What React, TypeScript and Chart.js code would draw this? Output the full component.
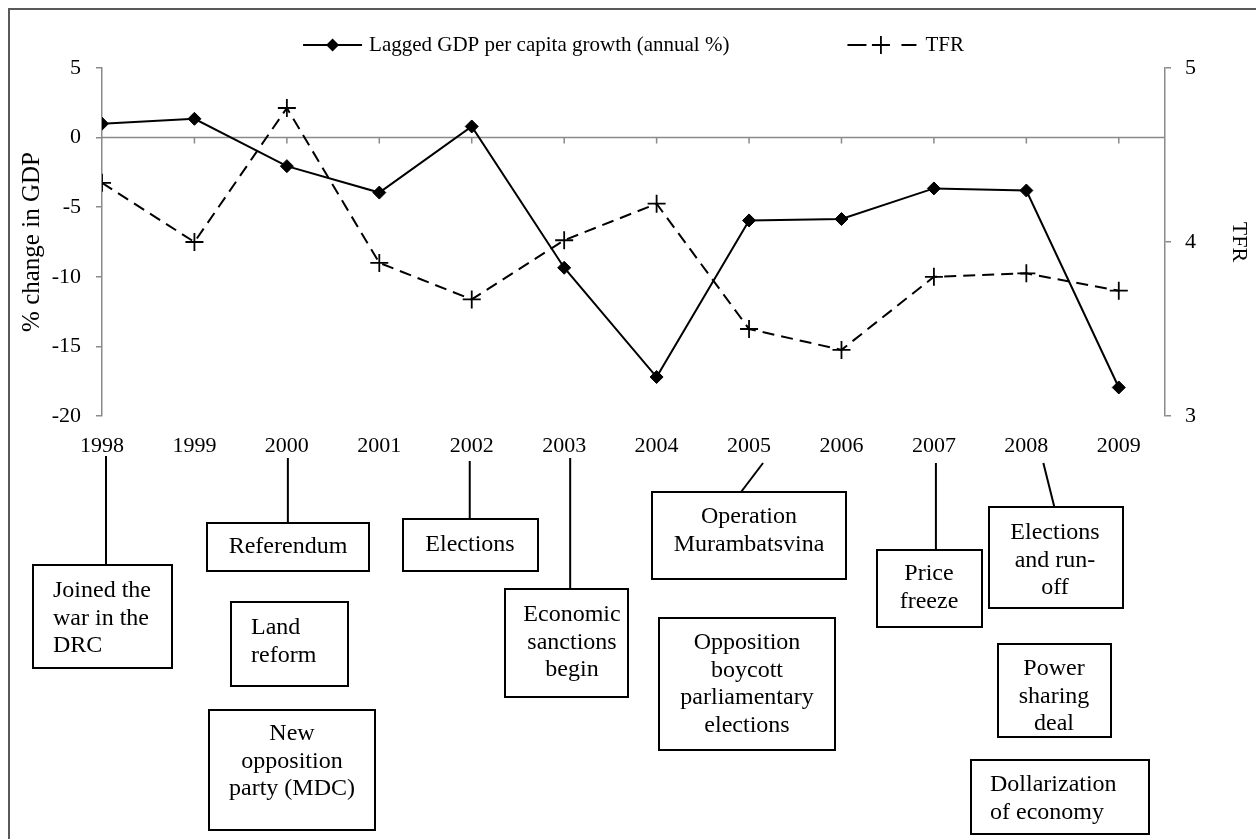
import React, { useEffect, useRef } from 'react';
import { Chart, registerables } from 'chart.js';

Chart.register(...registerables);

// ---------------- data ----------------
const years = [1998, 1999, 2000, 2001, 2002, 2003, 2004, 2005, 2006, 2007, 2008, 2009];
const gdpGrowth = [1.0, 1.35, -2.05, -3.95, 0.8, -9.35, -17.2, -5.95, -5.85, -3.65, -3.8, -17.95];
const tfr = [4.34, 4.0, 4.77, 3.88, 3.67, 4.01, 4.22, 3.5, 3.38, 3.8, 3.82, 3.72];
const gdpTicks = [-20, -15, -10, -5, 0, 5];
const tfrTicks = [3, 4, 5];
const legendLabels = ['Lagged GDP per capita growth (annual %)', 'TFR'];
const leftAxisTitle = '% change in GDP';
const rightAxisTitle = 'TFR';

// ---------------- annotation layout ----------------
type Note = {
  lines: string[];
  box: [number, number, number, number];
  align: 'left' | 'center';
  textX: number;
  firstY: number;
  link?: { year: number; dxTop: number; dxBottom: number; yTop: number };
};

const notes: Note[] = [
  { lines: ['Joined the', 'war in the', 'DRC'], box: [33, 565, 172, 668], align: 'left', textX: 53, firstY: 591, link: { year: 1998, dxTop: 4, dxBottom: 4, yTop: 456 } },
  { lines: ['Referendum'], box: [207, 523, 369, 571], align: 'center', textX: 288, firstY: 547, link: { year: 2000, dxTop: 1, dxBottom: 1, yTop: 458 } },
  { lines: ['Land', 'reform'], box: [231, 602, 348, 686], align: 'left', textX: 251, firstY: 628 },
  { lines: ['New', 'opposition', 'party (MDC)'], box: [209, 710, 375, 830], align: 'center', textX: 292, firstY: 734 },
  { lines: ['Elections'], box: [403, 519, 538, 571], align: 'center', textX: 470, firstY: 545, link: { year: 2002, dxTop: -2, dxBottom: -2, yTop: 461 } },
  { lines: ['Economic', 'sanctions', 'begin'], box: [505, 589, 628, 697], align: 'center', textX: 572, firstY: 615, link: { year: 2003, dxTop: 6, dxBottom: 6, yTop: 458 } },
  { lines: ['Operation', 'Murambatsvina'], box: [652, 492, 846, 579], align: 'center', textX: 749, firstY: 517, link: { year: 2005, dxTop: 14, dxBottom: -8, yTop: 463 } },
  { lines: ['Opposition', 'boycott', 'parliamentary', 'elections'], box: [659, 618, 835, 750], align: 'center', textX: 747, firstY: 643 },
  { lines: ['Price', 'freeze'], box: [877, 550, 982, 627], align: 'center', textX: 929, firstY: 574, link: { year: 2007, dxTop: 2, dxBottom: 2, yTop: 463 } },
  { lines: ['Elections', 'and run-', 'off'], box: [989, 507, 1123, 608], align: 'center', textX: 1055, firstY: 533, link: { year: 2008, dxTop: 17, dxBottom: 28, yTop: 463 } },
  { lines: ['Power', 'sharing', 'deal'], box: [998, 644, 1111, 737], align: 'center', textX: 1054, firstY: 669 },
  { lines: ['Dollarization', 'of economy'], box: [971, 760, 1149, 834], align: 'left', textX: 990, firstY: 785 },
];

const FONT = '"Liberation Serif", "Times New Roman", Times, serif';
const AXIS_GRAY = '#8a8a8a';
const W = 1256;
const H = 839;

function drawDiamond(ctx: CanvasRenderingContext2D, x: number, y: number, r: number) {
  ctx.beginPath();
  ctx.moveTo(x - r, y);
  ctx.lineTo(x, y - r);
  ctx.lineTo(x + r, y);
  ctx.lineTo(x, y + r);
  ctx.closePath();
  ctx.fill();
}

function drawCross(ctx: CanvasRenderingContext2D, x: number, y: number, r: number) {
  ctx.beginPath();
  ctx.moveTo(x - r, y);
  ctx.lineTo(x + r, y);
  ctx.moveTo(x, y - r);
  ctx.lineTo(x, y + r);
  ctx.stroke();
}

const figurePlugin = {
  id: 'figureExtras',
  beforeDatasetsDraw(chart: any) {
    const { ctx, chartArea, scales } = chart;
    const y0 = scales.y.getPixelForValue(0);
    ctx.save();
    ctx.strokeStyle = AXIS_GRAY;
    ctx.lineWidth = 1.5;
    ctx.beginPath();
    ctx.moveTo(chartArea.left, y0);
    ctx.lineTo(chartArea.right, y0);
    years.forEach((yr, i) => {
      if (i === 0) return;
      const x = scales.x.getPixelForValue(yr);
      ctx.moveTo(x, y0);
      ctx.lineTo(x, y0 + 6);
    });
    ctx.stroke();
    ctx.restore();
  },
  afterDraw(chart: any) {
    const { ctx, chartArea, scales } = chart;
    ctx.save();

    // outer figure border
    ctx.strokeStyle = '#595959';
    ctx.lineWidth = 2;
    ctx.strokeRect(9, 9, W + 20, H + 20);

    // legend
    ctx.font = `21px ${FONT}`;
    ctx.fillStyle = '#000';
    ctx.strokeStyle = '#000';
    ctx.textBaseline = 'middle';
    ctx.textAlign = 'left';
    const ly = 45;
    const tw1 = ctx.measureText(legendLabels[0]).width;
    const tw2 = ctx.measureText(legendLabels[1]).width;
    const m1 = 59, g1 = 7, m2 = 69, g2 = 9, between = 118;
    const total = m1 + g1 + tw1 + between + m2 + g2 + tw2;
    let lx = (chartArea.left + chartArea.right) / 2 - total / 2;
    ctx.lineWidth = 2;
    ctx.beginPath();
    ctx.moveTo(lx, ly);
    ctx.lineTo(lx + m1, ly);
    ctx.stroke();
    drawDiamond(ctx, lx + m1 / 2, ly, 6.5);
    ctx.fillText(legendLabels[0], lx + m1 + g1, ly);
    lx += m1 + g1 + tw1 + between;
    ctx.beginPath();
    ctx.moveTo(lx, ly);
    ctx.lineTo(lx + 19, ly);
    ctx.moveTo(lx + m2 - 15, ly);
    ctx.lineTo(lx + m2, ly);
    ctx.stroke();
    ctx.lineWidth = 1.8;
    drawCross(ctx, lx + m2 / 2 - 1, ly, 9);
    ctx.fillText(legendLabels[1], lx + m2 + g2, ly);

    // annotation boxes
    ctx.font = `24px ${FONT}`;
    ctx.textBaseline = 'middle';
    notes.forEach((n) => {
      const [x0, y0, x1, y1] = n.box;
      ctx.fillStyle = '#fff';
      ctx.fillRect(x0, y0, x1 - x0, y1 - y0);
      ctx.strokeStyle = '#000';
      ctx.lineWidth = 2;
      ctx.strokeRect(x0, y0, x1 - x0, y1 - y0);
      ctx.fillStyle = '#000';
      ctx.textAlign = n.align;
      n.lines.forEach((t, i) => ctx.fillText(t, n.textX, n.firstY + i * 27.5));
      if (n.link) {
        const xp = scales.x.getPixelForValue(n.link.year);
        ctx.beginPath();
        ctx.moveTo(xp + n.link.dxTop, n.link.yTop);
        ctx.lineTo(xp + n.link.dxBottom, y0);
        ctx.stroke();
      }
    });
    ctx.restore();
  },
};

export default function App() {
  const canvasRef = useRef<HTMLCanvasElement | null>(null);

  useEffect(() => {
    const canvas = canvasRef.current;
    if (!canvas) return;
    const tickFont = { family: FONT, size: 22 };
    const chart = new Chart(canvas, {
      type: 'line',
      data: {
        datasets: [
          {
            label: legendLabels[0],
            data: years.map((x, i) => ({ x, y: gdpGrowth[i] })),
            xAxisID: 'x',
            yAxisID: 'y',
            borderColor: '#000',
            backgroundColor: '#000',
            borderWidth: 2,
            pointStyle: 'rectRot',
            pointRadius: 6.5,
            pointBackgroundColor: '#000',
            pointBorderColor: '#000',
            pointBorderWidth: 1,
            tension: 0,
            fill: false,
          },
          {
            label: legendLabels[1],
            data: years.map((x, i) => ({ x, y: tfr[i] })),
            xAxisID: 'x',
            yAxisID: 'y1',
            borderColor: '#000',
            backgroundColor: '#000',
            borderWidth: 2,
            borderDash: [12, 7],
            pointStyle: 'cross',
            pointRadius: 9,
            pointBorderColor: '#000',
            pointBorderWidth: 1.8,
            tension: 0,
            fill: false,
          },
        ],
      },
      options: {
        responsive: false,
        animation: false,
        devicePixelRatio: 1,
        layout: { padding: { top: 68, left: 0, right: 0, bottom: 0 } },
        plugins: {
          legend: { display: false },
          tooltip: { enabled: false },
          title: { display: false },
        },
        scales: {
          x: {
            type: 'linear',
            position: 'bottom',
            min: 1998,
            max: 2009.5,
            afterBuildTicks: (s: any) => {
              s.ticks = years.map((v) => ({ value: v }));
            },
            ticks: {
              autoSkip: false,
              maxRotation: 0,
              padding: 17,
              color: '#000',
              font: tickFont,
              callback: (v: any) => String(v),
            },
            grid: { display: false, drawTicks: false },
            border: { display: false },
            afterFit: (s: any) => {
              s.height = 423;
            },
          },
          y: {
            type: 'linear',
            position: 'left',
            min: -20,
            max: 5,
            afterBuildTicks: (s: any) => {
              s.ticks = gdpTicks.map((v) => ({ value: v }));
            },
            ticks: {
              padding: 15,
              color: '#000',
              font: tickFont,
              callback: (v: any) => String(v),
            },
            grid: { display: true, drawOnChartArea: false, drawTicks: true, tickLength: 6, color: AXIS_GRAY, lineWidth: 1.5 },
            border: { display: true, color: AXIS_GRAY, width: 1.5 },
            title: { display: true, text: leftAxisTitle, color: '#000', font: { family: FONT, size: 25 }, padding: { top: 17, bottom: 0 } },
            afterFit: (s: any) => {
              s.width = 102;
            },
          },
          y1: {
            type: 'linear',
            position: 'right',
            min: 3,
            max: 5,
            afterBuildTicks: (s: any) => {
              s.ticks = tfrTicks.map((v) => ({ value: v }));
            },
            ticks: {
              padding: 14,
              color: '#000',
              font: tickFont,
              callback: (v: any) => String(v),
            },
            grid: { display: true, drawOnChartArea: false, drawTicks: true, tickLength: 6, color: AXIS_GRAY, lineWidth: 1.5 },
            border: { display: true, color: AXIS_GRAY, width: 1.5 },
            title: { display: true, text: rightAxisTitle, color: '#000', font: { family: FONT, size: 22 }, padding: { top: 4, bottom: 0 } },
            afterFit: (s: any) => {
              s.width = 91;
            },
          },
        },
      },
      plugins: [figurePlugin],
    });
    return () => chart.destroy();
  }, []);

  return (
    <div style={{ position: 'fixed', left: 0, top: 0, width: W, height: H, background: '#fff', overflow: 'hidden' }}>
      <canvas ref={canvasRef} width={W} height={H} style={{ display: 'block', width: W, height: H }} />
    </div>
  );
}
